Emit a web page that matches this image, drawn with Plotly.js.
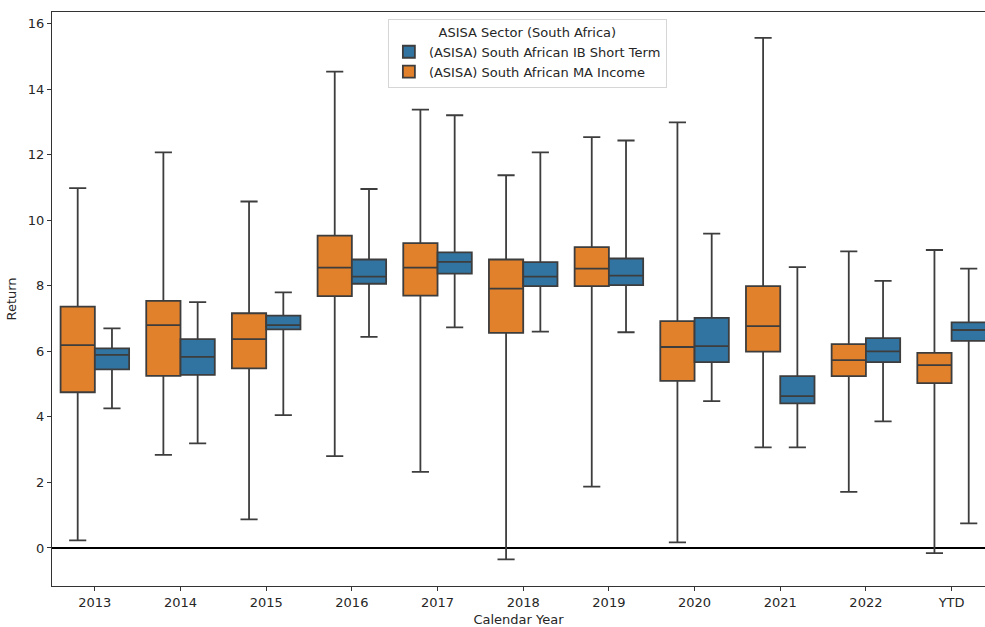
<!DOCTYPE html>
<html>
<head>
<meta charset="utf-8">
<script src="https://cdn.plot.ly/plotly-3.0.1.min.js"></script>
<style>html,body{margin:0;padding:0;background:#fff;overflow:hidden}#chart{width:985px;height:627px}</style>
</head>
<body>
<div id="chart"></div>
<script>
const categories = ['2013','2014','2015','2016','2017','2018','2019','2020','2021','2022','YTD'];

// (ASISA) South African MA Income
const maLower  = [0.23, 2.84, 0.87, 2.80, 2.32, -0.35, 1.87, 0.17, 3.07, 1.71, -0.16];
const maQ1     = [4.75, 5.25, 5.48, 7.68, 7.70, 6.56, 7.99, 5.10, 5.99, 5.24, 5.03];
const maMedian = [6.19, 6.80, 6.37, 8.55, 8.55, 7.91, 8.52, 6.13, 6.77, 5.73, 5.58];
const maQ3     = [7.36, 7.54, 7.16, 9.53, 9.30, 8.80, 9.18, 6.92, 7.99, 6.22, 5.95];
const maUpper  = [10.98, 12.07, 10.57, 14.53, 13.37, 11.37, 12.53, 12.98, 15.56, 9.05, 9.09];

// (ASISA) South African IB Short Term
const ibLower  = [4.26, 3.19, 4.05, 6.44, 6.73, 6.60, 6.58, 4.48, 3.07, 3.86, 0.75];
const ibQ1     = [5.45, 5.28, 6.67, 8.06, 8.37, 7.99, 8.02, 5.67, 4.41, 5.67, 6.32];
const ibMedian = [5.89, 5.83, 6.80, 8.28, 8.73, 8.28, 8.31, 6.16, 4.63, 6.00, 6.65];
const ibQ3     = [6.09, 6.37, 7.09, 8.80, 9.02, 8.72, 8.83, 7.02, 5.24, 6.40, 6.88];
const ibUpper  = [6.70, 7.50, 7.80, 10.95, 13.20, 12.07, 12.43, 9.59, 8.57, 8.15, 8.52];

const lineCol = '#3d3d3d';

const traces = [
  {
    type: 'box', name: '(ASISA) South African MA Income',
    x: categories, q1: maQ1, median: maMedian, q3: maQ3,
    lowerfence: maLower, upperfence: maUpper,
    fillcolor: '#e1812c', line: {color: lineCol, width: 1.8},
    whiskerwidth: 0.5, boxpoints: false, legendrank: 2, hoverinfo: 'y'
  },
  {
    type: 'box', name: '(ASISA) South African IB Short Term',
    x: categories, q1: ibQ1, median: ibMedian, q3: ibQ3,
    lowerfence: ibLower, upperfence: ibUpper,
    fillcolor: '#3274a1', line: {color: lineCol, width: 1.8},
    whiskerwidth: 0.5, boxpoints: false, legendrank: 1, hoverinfo: 'y'
  }
];

const layout = {
  width: 985, height: 627,
  margin: {l: 52, r: 0, t: 12, b: 41},
  paper_bgcolor: '#fff', plot_bgcolor: '#fff',
  font: {family: 'DejaVu Sans', size: 13, color: '#262626'},
  boxmode: 'group', boxgap: 0.2, boxgroupgap: 0,
  showlegend: true,
  legend: {
    x: 0.36, y: 0.988, xanchor: 'left', yanchor: 'top',
    bgcolor: 'rgba(255,255,255,0.8)', bordercolor: '#d6d6d6', borderwidth: 1,
    title: {text: 'ASISA Sector (South Africa)', side: 'top center', font: {size: 13}},
    font: {size: 13}, tracegroupgap: 2
  },
  xaxis: {
    type: 'category', categoryarray: categories, range: [-0.5, 10.39],
    showline: true, linecolor: '#333', linewidth: 1, mirror: true,
    ticks: 'outside', ticklen: 4, tickcolor: '#333',
    showgrid: false, zeroline: false,
    title: {text: 'Calendar Year', standoff: 6, font: {size: 13}}
  },
  yaxis: {
    range: [-1.16, 16.35],
    tickvals: [0, 2, 4, 6, 8, 10, 12, 14, 16],
    showline: true, linecolor: '#333', linewidth: 1,
    ticks: 'outside', ticklen: 4, tickcolor: '#333',
    showgrid: false, zeroline: false,
    title: {text: 'Return', standoff: 8, font: {size: 13}}
  },
  shapes: [
    {type: 'line', xref: 'paper', x0: 0, x1: 1, yref: 'y', y0: 0, y1: 0,
     line: {color: '#000', width: 2}, layer: 'below'}
  ]
};

Plotly.newPlot('chart', traces, layout, {displayModeBar: false, staticPlot: true});
</script>
</body>
</html>
